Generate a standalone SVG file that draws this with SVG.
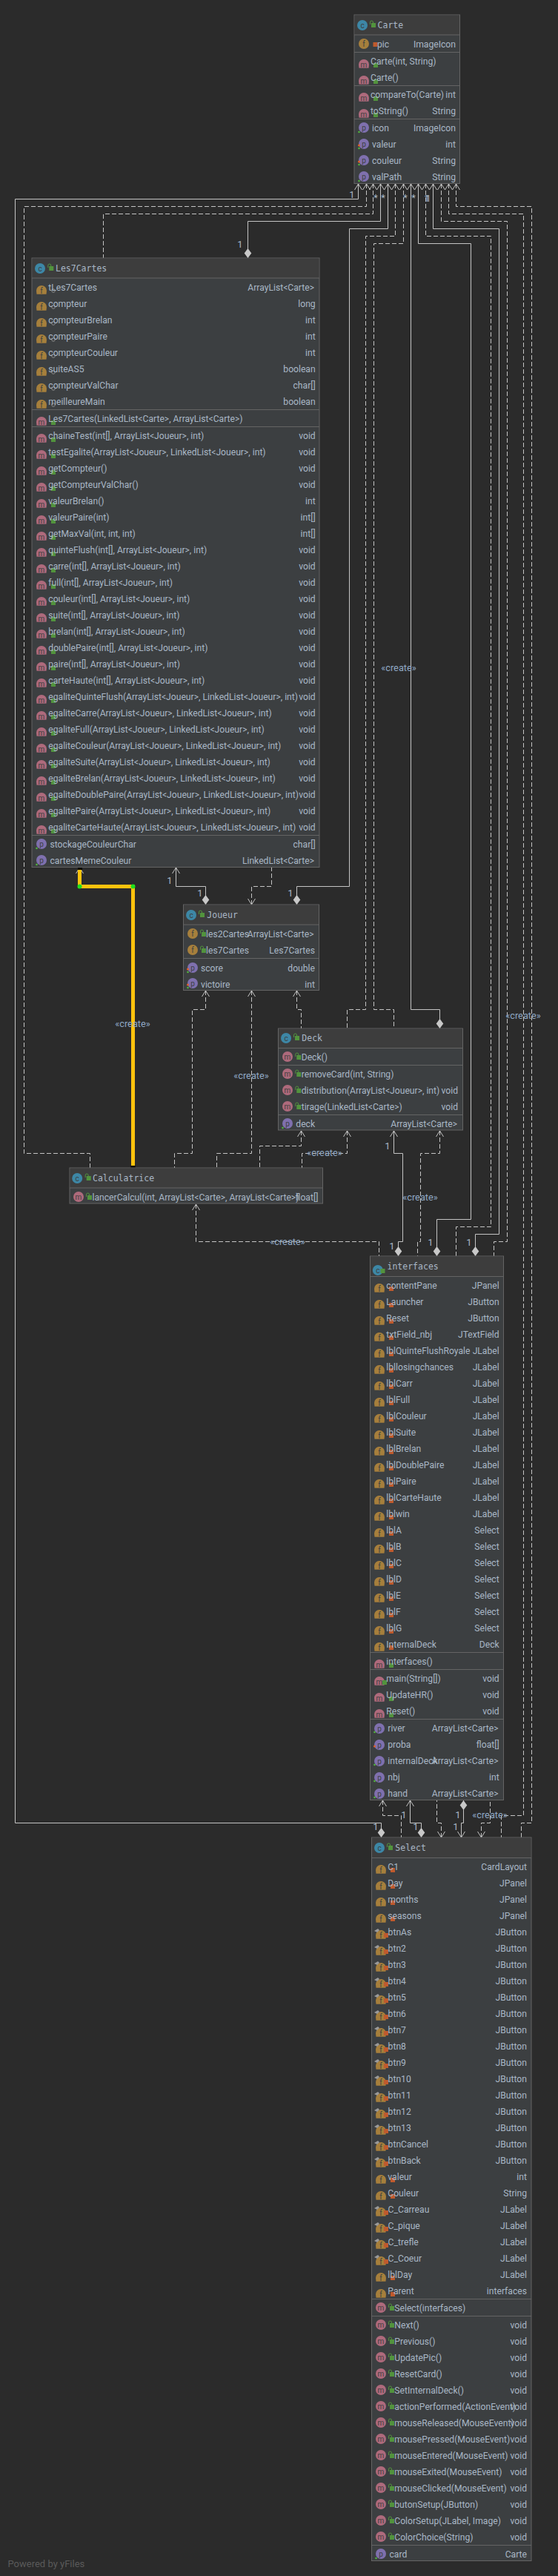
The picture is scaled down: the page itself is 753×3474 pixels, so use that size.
<svg xmlns="http://www.w3.org/2000/svg" width="753" height="3474" viewBox="0 0 753 3474">
<style>
text{font-family:Roboto,"Open Sans","DejaVu Sans",sans-serif;font-size:12.15px;fill:#a9b7c6}
.t{text-anchor:end}
.h{font-family:"DejaVu Sans Mono","Liberation Mono",monospace;font-size:11.5px;fill:#a9b7c6}
.l{font-size:12.8px;fill:#8fa8c4;text-anchor:middle}
.o{fill:#a9b7c6;font-size:13px;text-anchor:middle}
.b{fill:#3c3f41;stroke:#646464;stroke-width:1}
.hd{fill:#3d3d3d}
.s{stroke:#646464;stroke-width:1}
.cs{fill:none;stroke:#c4c4c4;stroke-width:1;marker-start:url(#ah)}
.cd{fill:none;stroke:#c4c4c4;stroke-width:1;stroke-dasharray:6 3;marker-start:url(#ah)}
.di{marker-end:url(#di)}
.ic{font-size:10px;fill:#3c3f41;text-anchor:middle}
</style>
<defs>
<marker id="ah" markerUnits="userSpaceOnUse" markerWidth="14" markerHeight="14" viewBox="-12 -7 14 14" refX="0" refY="0" orient="auto-start-reverse"><path d="M-8,-5L0,0L-8,5" fill="none" stroke="#c4c4c4" stroke-width="1"/></marker>
<marker id="di" markerUnits="userSpaceOnUse" markerWidth="16" markerHeight="12" viewBox="-14 -6 16 12" refX="0" refY="0" orient="auto"><path d="M-13,0L-6.5,-4.8L0,0L-6.5,4.8Z" fill="#c8c8c8"/></marker>
<g id="ic"><circle r="7" fill="#3d87a6"/><text class="ic" y="3.5">c</text></g>
<g id="if"><circle r="7" fill="#a67f3c"/><text class="ic" y="3.5">f</text></g>
<g id="im"><circle r="7" fill="#ae6a7c"/><text class="ic" y="3.5">m</text></g>
<g id="ip"><circle r="7" fill="#7f70ae"/><text class="ic" y="3.5">p</text></g>
<g id="fd"><path d="M-7,0A7,7 0 0 1 7,0L6.5,4.7L-6.5,4.7Z" fill="#a67f3c"/><text class="ic" y="3.5">f</text></g>
<g id="md"><path d="M-7,0A7,7 0 0 1 7,0L6.5,4.7L-6.5,4.7Z" fill="#ae6a7c"/><text class="ic" y="3.5">m</text></g>
<g id="lo"><path d="M-4.5,-1V-4A2,2 0 0 1 -0.5,-4V-3" fill="none" stroke="#52933d"/><rect x="-3" y="-3" width="6" height="6" fill="#52933d"/></g>
<rect id="gs" x="-3" y="-3" width="6" height="6" fill="#52933d"/>
<rect id="rs" x="-3" y="-3" width="6" height="6" fill="#bf5a2d"/>
<circle id="ring" r="2.3" fill="none" stroke="#8a8a8a"/>
<circle id="gd" r="1.3" fill="#52b33d"/>
<circle id="rd" r="1.5" fill="#e0602c"/>
<path id="pin" d="M-4,0L1,-3L3,-1L0,2Z" fill="#9a9a9a"/>
</defs>
<rect width="753" height="3474" fill="#2b2b2b"/>

<g id="connectors">
<polyline class="cs di" points="483.5,248 483.5,268.5 20.5,268.5 20.5,2458.5 514.5,2458.5 514.5,2478"/>
<polyline class="cd" points="494.5,248 494.5,278.5 32.5,278.5 32.5,1555.5 121.5,1555.5 121.5,1575"/>
<polyline class="cd" points="503.5,248 503.5,288.5 139.5,288.5 139.5,348"/>
<polyline class="cs di" points="513.5,248 513.5,298.5 334.5,298.5 334.5,348"/>
<polyline class="cs di" points="523.5,248 523.5,308.5 471.5,308.5 471.5,1195.5 400.5,1195.5 400.5,1220"/>
<polyline class="cd" points="533.5,248 533.5,318.5 493.5,318.5 493.5,1361.5 468.5,1361.5 468.5,1387"/>
<polyline class="cd" points="544.5,248 544.5,328.5 504.5,328.5 504.5,1361.5 531.5,1361.5 531.5,1387"/>
<polyline class="cs di" points="554.5,248 554.5,1361.5 593.5,1361.5 593.5,1387"/>
<polyline class="cs di" points="564.5,248 564.5,328.5 635.5,328.5 635.5,1644.5 589.5,1644.5 589.5,1694"/>
<polyline class="cd" points="574.5,248 574.5,318.5 662.5,318.5 662.5,1654.5 615.5,1654.5 615.5,1694"/>
<polyline class="cs di" points="584.5,248 584.5,308.5 673.5,308.5 673.5,1664.5 641.5,1664.5 641.5,1694"/>
<polyline class="cd" points="595.5,248 595.5,298.5 684.5,298.5 684.5,1674.5 666.5,1674.5 666.5,1694"/>
<polyline class="cd" points="605.5,248 605.5,288.5 706.5,288.5 706.5,2448.5 676.5,2448.5 676.5,2478"/>
<polyline class="cd" points="615.5,248 615.5,278.5 717.5,278.5 717.5,2458.5 703.5,2458.5 703.5,2478"/>
<polyline class="cs di" points="237.5,1170 237.5,1195.5 277.5,1195.5 277.5,1220"/>
<polyline class="cd" points="339.5,1220 339.5,1195.5 366.5,1195.5 366.5,1170"/>
<polyline class="cs" points="107.5,1170 107.5,1180"/>
<polyline class="cd" points="277.5,1336 277.5,1361.5 259.5,1361.5 259.5,1555.5 235.5,1555.5 235.5,1575"/>
<polyline class="cd" points="339.5,1336 339.5,1555.5 292.5,1555.5 292.5,1575"/>
<polyline class="cd" points="400.5,1336 400.5,1361.5 406.5,1361.5 406.5,1387"/>
<polyline class="cd" points="406.5,1525 406.5,1545.5 350.5,1545.5 350.5,1575"/>
<polyline class="cd" points="468.5,1525 468.5,1555.5 407.5,1555.5 407.5,1575"/>
<polyline class="cs di" points="531.5,1525 531.5,1555.5 543.5,1555.5 543.5,1674.5 537.5,1674.5 537.5,1694"/>
<polyline class="cd" points="593.5,1525 593.5,1555.5 567.5,1555.5 567.5,1674.5 563.5,1674.5 563.5,1694"/>
<polyline class="cd" points="264.5,1624 264.5,1674.5 511.5,1674.5 511.5,1694"/>
<polyline class="cd" points="516.5,2428 516.5,2448.5 541.5,2448.5 541.5,2478"/>
<polyline class="cs di" points="553.5,2428 553.5,2458.5 568.5,2458.5 568.5,2478"/>
<polyline class="cd" points="595.5,2478 595.5,2458.5 589.5,2458.5 589.5,2428"/>
<polyline class="cs di" points="622.5,2478 622.5,2458.5 625.5,2458.5 625.5,2428"/>
<polyline class="cd" points="649.5,2478 649.5,2458.5 661.5,2458.5 661.5,2428"/>
<polyline id="highlight" points="107.5,1172 107.5,1195.5 179.5,1195.5 179.5,1575" fill="none" stroke="#ffc30d" stroke-width="5"/>
<rect x="105" y="1167" width="6" height="6" fill="#000"/>
<rect x="176.5" y="1572" width="6" height="6" fill="#000"/>
<circle cx="107.5" cy="1195.5" r="3" fill="#1ee01e"/>
<circle cx="179.5" cy="1195.5" r="3" fill="#1ee01e"/>
<text class="o" x="475" y="267">1</text><text class="o" x="507" y="271">*</text><text class="o" x="517" y="271">*</text><text class="o" x="547" y="271">*</text><text class="o" x="558" y="271">*</text><text class="o" x="576" y="272">1</text><text class="o" x="578" y="272">1</text>
<text class="o" x="324" y="334">1</text>
<text class="o" x="229" y="1192">1</text><text class="o" x="270" y="1209">1</text><text class="o" x="392" y="1209">1</text>
<text class="o" x="523" y="1550">1</text><text class="o" x="529" y="1685">1</text><text class="o" x="581" y="1680">1</text><text class="o" x="633" y="1680">1</text>
<text class="o" x="545" y="2452">1</text><text class="o" x="507" y="2468">1</text><text class="o" x="561" y="2468">1</text><text class="o" x="618" y="2452">1</text><text class="o" x="615" y="2468">1</text>
<text class="l" x="179" y="1385">«create»</text>
<text class="l" x="339" y="1455">«create»</text>
<text class="l" x="438" y="1559">«create»</text>
<text class="l" x="567" y="1619">«create»</text>
<text class="l" x="388" y="1679">«create»</text>
<text class="l" x="661" y="2452">«create»</text>
<text class="l" x="706" y="1374">«create»</text>
<text class="l" x="538" y="905">«create»</text>
</g>

<g id="Carte">
<rect class="b" x="478" y="20" width="142.500" height="227.500"/><rect class="hd" x="478.500" y="20.500" width="141.500" height="26.500"/>
<path class="s" d="M478,47H620M478,70.500H620M478,115.500H620M478,160.500H620"/>
<use href="#ic" x="489" y="34"/><use href="#lo" x="504" y="34"/><text class="h" x="509.600" y="38">Carte</text>
<use href="#if" x="491" y="59"/><use href="#rs" x="506.500" y="60"/><text x="509" y="64">pic</text><text class="t" x="615" y="64">ImageIcon</text>
<use href="#md" x="491" y="87"/><use href="#gs" x="507" y="88"/><text x="500" y="87">Carte(int, String)</text>
<use href="#md" x="491" y="109"/><use href="#gs" x="507" y="110"/><text x="500" y="109">Carte()</text>
<use href="#md" x="491" y="132"/><use href="#gs" x="507" y="133"/><text x="500" y="132">compareTo(Carte)</text><text class="t" x="615" y="132">int</text>
<use href="#md" x="491" y="154"/><use href="#gs" x="507" y="155"/><text x="500" y="154">toString()</text><text class="t" x="615" y="154">String</text>
<use href="#ip" x="491" y="172"/><use href="#gd" x="484.500" y="178"/><text x="502" y="177">icon</text><text class="t" x="615" y="177">ImageIcon</text>
<use href="#ip" x="491" y="194"/><use href="#rd" x="484.500" y="196"/><use href="#gd" x="484.500" y="200"/><text x="502" y="199">valeur</text><text class="t" x="615" y="199">int</text>
<use href="#ip" x="491" y="216"/><use href="#rd" x="484.500" y="218"/><use href="#gd" x="484.500" y="222"/><text x="502" y="221">couleur</text><text class="t" x="615" y="221">String</text>
<use href="#ip" x="491" y="238"/><use href="#gd" x="484.500" y="244"/><text x="502" y="243">valPath</text><text class="t" x="615" y="243">String</text>
</g>

<g id="Les7Cartes">
<rect class="b" x="43" y="348" width="388" height="821.500"/><rect class="hd" x="43.500" y="348.500" width="387" height="26.500"/>
<path class="s" d="M43,375H431M43,552.500H431M43,575.500H431M43,1126.500H431"/>
<use href="#ic" x="54" y="362"/><use href="#lo" x="69.300" y="362"/><text class="h" x="75" y="366">Les7Cartes</text>
<use href="#fd" x="56" y="392"/><use href="#ring" x="72" y="392"/><text x="65.300" y="392">tLes7Cartes</text><text class="t" x="424" y="392">ArrayList&lt;Carte&gt;</text>
<use href="#fd" x="56" y="414"/><use href="#ring" x="72" y="414"/><text x="65.300" y="414">compteur</text><text class="t" x="425.700" y="414">long</text>
<use href="#fd" x="56" y="436"/><use href="#ring" x="72" y="436"/><text x="65.300" y="436">compteurBrelan</text><text class="t" x="425.700" y="436">int</text>
<use href="#fd" x="56" y="458"/><use href="#ring" x="72" y="458"/><text x="65.300" y="458">compteurPaire</text><text class="t" x="425.700" y="458">int</text>
<use href="#fd" x="56" y="480"/><use href="#ring" x="72" y="480"/><text x="65.300" y="480">compteurCouleur</text><text class="t" x="425.700" y="480">int</text>
<use href="#fd" x="56" y="502"/><use href="#ring" x="72" y="502"/><text x="65.300" y="502">suiteAS5</text><text class="t" x="425.700" y="502">boolean</text>
<use href="#fd" x="56" y="524"/><use href="#ring" x="72" y="524"/><text x="65.300" y="524">compteurValChar</text><text class="t" x="425.700" y="524">char[]</text>
<use href="#fd" x="56" y="546"/><use href="#ring" x="72" y="546"/><text x="65.300" y="546">meilleureMain</text><text class="t" x="425.700" y="546">boolean</text>
<use href="#md" x="56" y="569"/><use href="#gs" x="72" y="570"/><text x="65.300" y="569">Les7Cartes(LinkedList&lt;Carte&gt;, ArrayList&lt;Carte&gt;)</text>
<use href="#md" x="56" y="592"/><use href="#gs" x="72" y="593"/><text x="65.300" y="592">chaineTest(int[], ArrayList&lt;Joueur&gt;, int)</text><text class="t" x="425.700" y="592">void</text>
<use href="#md" x="56" y="614"/><use href="#gs" x="72" y="615"/><text x="65.300" y="614">testEgalite(ArrayList&lt;Joueur&gt;, LinkedList&lt;Joueur&gt;, int)</text><text class="t" x="425.700" y="614">void</text>
<use href="#md" x="56" y="636"/><use href="#gs" x="72" y="637"/><text x="65.300" y="636">getCompteur()</text><text class="t" x="425.700" y="636">void</text>
<use href="#md" x="56" y="658"/><use href="#gs" x="72" y="659"/><text x="65.300" y="658">getCompteurValChar()</text><text class="t" x="425.700" y="658">void</text>
<use href="#md" x="56" y="680"/><use href="#gs" x="72" y="681"/><text x="65.300" y="680">valeurBrelan()</text><text class="t" x="425.700" y="680">int</text>
<use href="#md" x="56" y="702"/><use href="#gs" x="72" y="703"/><text x="65.300" y="702">valeurPaire(int)</text><text class="t" x="425.700" y="702">int[]</text>
<use href="#md" x="56" y="724"/><use href="#gs" x="72" y="725"/><text x="65.300" y="724">getMaxVal(int, int, int)</text><text class="t" x="425.700" y="724">int[]</text>
<use href="#md" x="56" y="746"/><use href="#gs" x="72" y="747"/><text x="65.300" y="746">quinteFlush(int[], ArrayList&lt;Joueur&gt;, int)</text><text class="t" x="425.700" y="746">void</text>
<use href="#md" x="56" y="768"/><use href="#gs" x="72" y="769"/><text x="65.300" y="768">carre(int[], ArrayList&lt;Joueur&gt;, int)</text><text class="t" x="425.700" y="768">void</text>
<use href="#md" x="56" y="790"/><use href="#gs" x="72" y="791"/><text x="65.300" y="790">full(int[], ArrayList&lt;Joueur&gt;, int)</text><text class="t" x="425.700" y="790">void</text>
<use href="#md" x="56" y="812"/><use href="#gs" x="72" y="813"/><text x="65.300" y="812">couleur(int[], ArrayList&lt;Joueur&gt;, int)</text><text class="t" x="425.700" y="812">void</text>
<use href="#md" x="56" y="834"/><use href="#gs" x="72" y="835"/><text x="65.300" y="834">suite(int[], ArrayList&lt;Joueur&gt;, int)</text><text class="t" x="425.700" y="834">void</text>
<use href="#md" x="56" y="856"/><use href="#gs" x="72" y="857"/><text x="65.300" y="856">brelan(int[], ArrayList&lt;Joueur&gt;, int)</text><text class="t" x="425.700" y="856">void</text>
<use href="#md" x="56" y="878"/><use href="#gs" x="72" y="879"/><text x="65.300" y="878">doublePaire(int[], ArrayList&lt;Joueur&gt;, int)</text><text class="t" x="425.700" y="878">void</text>
<use href="#md" x="56" y="900"/><use href="#gs" x="72" y="901"/><text x="65.300" y="900">paire(int[], ArrayList&lt;Joueur&gt;, int)</text><text class="t" x="425.700" y="900">void</text>
<use href="#md" x="56" y="922"/><use href="#gs" x="72" y="923"/><text x="65.300" y="922">carteHaute(int[], ArrayList&lt;Joueur&gt;, int)</text><text class="t" x="425.700" y="922">void</text>
<use href="#md" x="56" y="944"/><use href="#gs" x="72" y="945"/><text x="65.300" y="944">egaliteQuinteFlush(ArrayList&lt;Joueur&gt;, LinkedList&lt;Joueur&gt;, int)</text><text class="t" x="425.700" y="944">void</text>
<use href="#md" x="56" y="966"/><use href="#gs" x="72" y="967"/><text x="65.300" y="966">egaliteCarre(ArrayList&lt;Joueur&gt;, LinkedList&lt;Joueur&gt;, int)</text><text class="t" x="425.700" y="966">void</text>
<use href="#md" x="56" y="988"/><use href="#gs" x="72" y="989"/><text x="65.300" y="988">egaliteFull(ArrayList&lt;Joueur&gt;, LinkedList&lt;Joueur&gt;, int)</text><text class="t" x="425.700" y="988">void</text>
<use href="#md" x="56" y="1010"/><use href="#gs" x="72" y="1011"/><text x="65.300" y="1010">egaliteCouleur(ArrayList&lt;Joueur&gt;, LinkedList&lt;Joueur&gt;, int)</text><text class="t" x="425.700" y="1010">void</text>
<use href="#md" x="56" y="1032"/><use href="#gs" x="72" y="1033"/><text x="65.300" y="1032">egaliteSuite(ArrayList&lt;Joueur&gt;, LinkedList&lt;Joueur&gt;, int)</text><text class="t" x="425.700" y="1032">void</text>
<use href="#md" x="56" y="1054"/><use href="#gs" x="72" y="1055"/><text x="65.300" y="1054">egaliteBrelan(ArrayList&lt;Joueur&gt;, LinkedList&lt;Joueur&gt;, int)</text><text class="t" x="425.700" y="1054">void</text>
<use href="#md" x="56" y="1076"/><use href="#gs" x="72" y="1077"/><text x="65.300" y="1076">egaliteDoublePaire(ArrayList&lt;Joueur&gt;, LinkedList&lt;Joueur&gt;, int)</text><text class="t" x="425.700" y="1076">void</text>
<use href="#md" x="56" y="1098"/><use href="#gs" x="72" y="1099"/><text x="65.300" y="1098">egalitePaire(ArrayList&lt;Joueur&gt;, LinkedList&lt;Joueur&gt;, int)</text><text class="t" x="425.700" y="1098">void</text>
<use href="#md" x="56" y="1120"/><use href="#gs" x="72" y="1121"/><text x="65.300" y="1120">egaliteCarteHaute(ArrayList&lt;Joueur&gt;, LinkedList&lt;Joueur&gt;, int)</text><text class="t" x="425.700" y="1120">void</text>
<use href="#ip" x="56" y="1138"/><use href="#gd" x="49.500" y="1144"/><text x="67.500" y="1143">stockageCouleurChar</text><text class="t" x="425.700" y="1143">char[]</text>
<use href="#ip" x="56" y="1160"/><use href="#gd" x="49.500" y="1166"/><text x="67.500" y="1165">cartesMemeCouleur</text><text class="t" x="424" y="1165">LinkedList&lt;Carte&gt;</text>
</g>

<g id="Joueur">
<rect class="b" x="247.500" y="1220" width="183" height="115.500"/><rect class="hd" x="248" y="1220.500" width="182" height="26.500"/>
<path class="s" d="M247.500,1247H430.500M247.500,1292.500H430.500"/>
<use href="#ic" x="258" y="1234"/><use href="#lo" x="273" y="1234"/><text class="h" x="279.300" y="1238">Joueur</text>
<use href="#if" x="260" y="1259"/><use href="#lo" x="275" y="1260"/><text x="278" y="1264">les2Cartes</text><text class="t" x="423.500" y="1264">ArrayList&lt;Carte&gt;</text>
<use href="#if" x="260" y="1281"/><use href="#lo" x="275" y="1282"/><text x="278" y="1286">les7Cartes</text><text class="t" x="425" y="1286">Les7Cartes</text>
<use href="#ip" x="260" y="1305"/><use href="#rd" x="253.500" y="1307"/><use href="#gd" x="253.500" y="1311"/><text x="271" y="1310">score</text><text class="t" x="425" y="1310">double</text>
<use href="#ip" x="260" y="1326"/><use href="#rd" x="253.500" y="1328"/><use href="#gd" x="253.500" y="1332"/><text x="271" y="1332">victoire</text><text class="t" x="425" y="1332">int</text>
</g>

<g id="Deck">
<rect class="b" x="375.500" y="1387" width="249" height="137"/><rect class="hd" x="376" y="1387.500" width="248" height="26"/>
<path class="s" d="M375.500,1413.500H624.500M375.500,1436.500H624.500M375.500,1503.500H624.500"/>
<use href="#ic" x="386" y="1400"/><use href="#lo" x="401" y="1400"/><text class="h" x="407.300" y="1404">Deck</text>
<use href="#im" x="388" y="1425"/><use href="#lo" x="403.300" y="1426"/><text x="406.700" y="1430">Deck()</text>
<use href="#im" x="388" y="1448"/><use href="#lo" x="403.300" y="1449"/><text x="406.700" y="1453">removeCard(int, String)</text>
<use href="#im" x="388" y="1470"/><use href="#lo" x="403.300" y="1471"/><text x="406.700" y="1475">distribution(ArrayList&lt;Joueur&gt;, int)</text><text class="t" x="618" y="1475">void</text>
<use href="#im" x="388" y="1492"/><use href="#lo" x="403.300" y="1493"/><text x="406.700" y="1497">tirage(LinkedList&lt;Carte&gt;)</text><text class="t" x="618" y="1497">void</text>
<use href="#ip" x="388" y="1515"/><use href="#gd" x="381.500" y="1521"/><text x="399.300" y="1520">deck</text><text class="t" x="617" y="1520">ArrayList&lt;Carte&gt;</text>
</g>

<g id="Calculatrice">
<rect class="b" x="94" y="1575" width="341.500" height="48"/><rect class="hd" x="94.500" y="1575.500" width="340.500" height="26.500"/>
<path class="s" d="M94,1602H435.500"/>
<use href="#ic" x="104.200" y="1589"/><use href="#lo" x="119.700" y="1589"/><text class="h" x="125" y="1593">Calculatrice</text>
<use href="#im" x="106" y="1614"/><use href="#lo" x="121" y="1615"/><text x="124.500" y="1619">lancerCalcul(int, ArrayList&lt;Carte&gt;, ArrayList&lt;Carte&gt;)</text><text class="t" x="429.400" y="1619">float[]</text>
</g>

<g id="interfaces">
<rect class="b" x="499.500" y="1694" width="180" height="733.500"/><rect class="hd" x="500" y="1694.500" width="179" height="27"/>
<path class="s" d="M499.500,1721.500H679.500M499.500,2228.500H679.500M499.500,2251.500H679.500M499.500,2318.500H679.500"/>
<use href="#ic" x="509.800" y="1713"/><use href="#gs" x="516.500" y="1714"/><text class="h" x="522.500" y="1712">interfaces</text>
<use href="#fd" x="512" y="1738"/><use href="#rs" x="528" y="1738"/><text x="521.300" y="1738">contentPane</text><text class="t" x="673.700" y="1738">JPanel</text>
<use href="#fd" x="512" y="1760"/><use href="#rs" x="528" y="1760"/><text x="521.300" y="1760">Launcher</text><text class="t" x="673.700" y="1760">JButton</text>
<use href="#fd" x="512" y="1782"/><use href="#rs" x="528" y="1782"/><text x="521.300" y="1782">Reset</text><text class="t" x="673.700" y="1782">JButton</text>
<use href="#fd" x="512" y="1804"/><use href="#rs" x="528" y="1804"/><text x="521.300" y="1804">txtField_nbj</text><text class="t" x="673.700" y="1804">JTextField</text>
<use href="#fd" x="512" y="1826"/><use href="#rs" x="528" y="1826"/><text x="521.300" y="1826">lblQuinteFlushRoyale</text><text class="t" x="673.700" y="1826">JLabel</text>
<use href="#fd" x="512" y="1848"/><use href="#rs" x="528" y="1848"/><text x="521.300" y="1848">lbllosingchances</text><text class="t" x="673.700" y="1848">JLabel</text>
<use href="#fd" x="512" y="1870"/><use href="#rs" x="528" y="1870"/><text x="521.300" y="1870">lblCarr</text><text class="t" x="673.700" y="1870">JLabel</text>
<use href="#fd" x="512" y="1892"/><use href="#rs" x="528" y="1892"/><text x="521.300" y="1892">lblFull</text><text class="t" x="673.700" y="1892">JLabel</text>
<use href="#fd" x="512" y="1914"/><use href="#rs" x="528" y="1914"/><text x="521.300" y="1914">lblCouleur</text><text class="t" x="673.700" y="1914">JLabel</text>
<use href="#fd" x="512" y="1936"/><use href="#rs" x="528" y="1936"/><text x="521.300" y="1936">lblSuite</text><text class="t" x="673.700" y="1936">JLabel</text>
<use href="#fd" x="512" y="1958"/><use href="#rs" x="528" y="1958"/><text x="521.300" y="1958">lblBrelan</text><text class="t" x="673.700" y="1958">JLabel</text>
<use href="#fd" x="512" y="1980"/><use href="#rs" x="528" y="1980"/><text x="521.300" y="1980">lblDoublePaire</text><text class="t" x="673.700" y="1980">JLabel</text>
<use href="#fd" x="512" y="2002"/><use href="#rs" x="528" y="2002"/><text x="521.300" y="2002">lblPaire</text><text class="t" x="673.700" y="2002">JLabel</text>
<use href="#fd" x="512" y="2024"/><use href="#rs" x="528" y="2024"/><text x="521.300" y="2024">lblCarteHaute</text><text class="t" x="673.700" y="2024">JLabel</text>
<use href="#fd" x="512" y="2046"/><use href="#rs" x="528" y="2046"/><text x="521.300" y="2046">lblwin</text><text class="t" x="673.700" y="2046">JLabel</text>
<use href="#fd" x="512" y="2068"/><use href="#rs" x="528" y="2068"/><text x="521.300" y="2068">lblA</text><text class="t" x="673.700" y="2068">Select</text>
<use href="#fd" x="512" y="2090"/><use href="#rs" x="528" y="2090"/><text x="521.300" y="2090">lblB</text><text class="t" x="673.700" y="2090">Select</text>
<use href="#fd" x="512" y="2112"/><use href="#rs" x="528" y="2112"/><text x="521.300" y="2112">lblC</text><text class="t" x="673.700" y="2112">Select</text>
<use href="#fd" x="512" y="2134"/><use href="#rs" x="528" y="2134"/><text x="521.300" y="2134">lblD</text><text class="t" x="673.700" y="2134">Select</text>
<use href="#fd" x="512" y="2156"/><use href="#rs" x="528" y="2156"/><text x="521.300" y="2156">lblE</text><text class="t" x="673.700" y="2156">Select</text>
<use href="#fd" x="512" y="2178"/><use href="#rs" x="528" y="2178"/><text x="521.300" y="2178">lblF</text><text class="t" x="673.700" y="2178">Select</text>
<use href="#fd" x="512" y="2200"/><use href="#rs" x="528" y="2200"/><text x="521.300" y="2200">lblG</text><text class="t" x="673.700" y="2200">Select</text>
<use href="#fd" x="512" y="2222"/><use href="#rs" x="528" y="2222"/><text x="521.300" y="2222">InternalDeck</text><text class="t" x="673.700" y="2222">Deck</text>
<use href="#md" x="512" y="2245"/><use href="#gs" x="528" y="2246"/><text x="521.300" y="2245">interfaces()</text>
<use href="#md" x="512" y="2268"/><use href="#gs" x="519" y="2269"/><text x="521.300" y="2268">main(String[])</text><text class="t" x="673.700" y="2268">void</text>
<use href="#md" x="512" y="2290"/><use href="#gs" x="528" y="2291"/><text x="521.300" y="2290">UpdateHR()</text><text class="t" x="673.700" y="2290">void</text>
<use href="#md" x="512" y="2312"/><use href="#gs" x="528" y="2313"/><text x="521.300" y="2312">Reset()</text><text class="t" x="673.700" y="2312">void</text>
<use href="#ip" x="512" y="2331"/><use href="#gd" x="505.500" y="2336"/><text x="523.300" y="2335">river</text><text class="t" x="672.500" y="2335">ArrayList&lt;Carte&gt;</text>
<use href="#ip" x="512" y="2353"/><use href="#rd" x="505.500" y="2355"/><text x="523.300" y="2357">proba</text><text class="t" x="673.700" y="2357">float[]</text>
<use href="#ip" x="512" y="2375"/><use href="#gd" x="505.500" y="2380"/><text x="523.300" y="2379">internalDeck</text><text class="t" x="672.500" y="2379">ArrayList&lt;Carte&gt;</text>
<use href="#ip" x="512" y="2397"/><use href="#gd" x="505.500" y="2402"/><text x="523.300" y="2401">nbj</text><text class="t" x="673.700" y="2401">int</text>
<use href="#ip" x="512" y="2419"/><use href="#gd" x="505.500" y="2424"/><text x="523.300" y="2423">hand</text><text class="t" x="672.500" y="2423">ArrayList&lt;Carte&gt;</text>
</g>

<g id="Select">
<rect class="b" x="501.500" y="2478" width="215.500" height="975.500"/><rect class="hd" x="502" y="2478.500" width="214.500" height="27"/>
<path class="s" d="M501.500,2505.500H717M501.500,3100.500H717M501.500,3123.500H717M501.500,3432.500H717"/>
<use href="#ic" x="512" y="2492"/><use href="#lo" x="527" y="2492"/><text class="h" x="533.300" y="2496">Select</text>
<use href="#fd" x="514" y="2522"/><use href="#rs" x="530" y="2522"/><text x="523.300" y="2522">C1</text><text class="t" x="711" y="2522">CardLayout</text>
<use href="#fd" x="514" y="2544"/><use href="#rs" x="530" y="2544"/><text x="523.300" y="2544">Day</text><text class="t" x="711" y="2544">JPanel</text>
<use href="#fd" x="514" y="2566"/><use href="#rs" x="530" y="2566"/><text x="523.300" y="2566">months</text><text class="t" x="711" y="2566">JPanel</text>
<use href="#fd" x="514" y="2588"/><use href="#rs" x="530" y="2588"/><text x="523.300" y="2588">seasons</text><text class="t" x="711" y="2588">JPanel</text>
<use href="#fd" x="514" y="2610"/><use href="#pin" x="509" y="2604"/><use href="#rs" x="521" y="2610"/><text x="523.600" y="2610">btnAs</text><text class="t" x="711" y="2610">JButton</text>
<use href="#fd" x="514" y="2632"/><use href="#pin" x="509" y="2626"/><use href="#rs" x="521" y="2632"/><text x="523.600" y="2632">btn2</text><text class="t" x="711" y="2632">JButton</text>
<use href="#fd" x="514" y="2654"/><use href="#pin" x="509" y="2648"/><use href="#rs" x="521" y="2654"/><text x="523.600" y="2654">btn3</text><text class="t" x="711" y="2654">JButton</text>
<use href="#fd" x="514" y="2676"/><use href="#pin" x="509" y="2670"/><use href="#rs" x="521" y="2676"/><text x="523.600" y="2676">btn4</text><text class="t" x="711" y="2676">JButton</text>
<use href="#fd" x="514" y="2698"/><use href="#pin" x="509" y="2692"/><use href="#rs" x="521" y="2698"/><text x="523.600" y="2698">btn5</text><text class="t" x="711" y="2698">JButton</text>
<use href="#fd" x="514" y="2720"/><use href="#pin" x="509" y="2714"/><use href="#rs" x="521" y="2720"/><text x="523.600" y="2720">btn6</text><text class="t" x="711" y="2720">JButton</text>
<use href="#fd" x="514" y="2742"/><use href="#pin" x="509" y="2736"/><use href="#rs" x="521" y="2742"/><text x="523.600" y="2742">btn7</text><text class="t" x="711" y="2742">JButton</text>
<use href="#fd" x="514" y="2764"/><use href="#pin" x="509" y="2758"/><use href="#rs" x="521" y="2764"/><text x="523.600" y="2764">btn8</text><text class="t" x="711" y="2764">JButton</text>
<use href="#fd" x="514" y="2786"/><use href="#pin" x="509" y="2780"/><use href="#rs" x="521" y="2786"/><text x="523.600" y="2786">btn9</text><text class="t" x="711" y="2786">JButton</text>
<use href="#fd" x="514" y="2808"/><use href="#pin" x="509" y="2802"/><use href="#rs" x="521" y="2808"/><text x="523.600" y="2808">btn10</text><text class="t" x="711" y="2808">JButton</text>
<use href="#fd" x="514" y="2830"/><use href="#pin" x="509" y="2824"/><use href="#rs" x="521" y="2830"/><text x="523.600" y="2830">btn11</text><text class="t" x="711" y="2830">JButton</text>
<use href="#fd" x="514" y="2852"/><use href="#pin" x="509" y="2846"/><use href="#rs" x="521" y="2852"/><text x="523.600" y="2852">btn12</text><text class="t" x="711" y="2852">JButton</text>
<use href="#fd" x="514" y="2874"/><use href="#pin" x="509" y="2868"/><use href="#rs" x="521" y="2874"/><text x="523.600" y="2874">btn13</text><text class="t" x="711" y="2874">JButton</text>
<use href="#fd" x="514" y="2896"/><use href="#pin" x="509" y="2890"/><use href="#rs" x="521" y="2896"/><text x="523.600" y="2896">btnCancel</text><text class="t" x="711" y="2896">JButton</text>
<use href="#fd" x="514" y="2918"/><use href="#pin" x="509" y="2912"/><use href="#rs" x="521" y="2918"/><text x="523.600" y="2918">btnBack</text><text class="t" x="711" y="2918">JButton</text>
<use href="#fd" x="514" y="2940"/><use href="#rs" x="530" y="2940"/><text x="523.300" y="2940">valeur</text><text class="t" x="711" y="2940">int</text>
<use href="#fd" x="514" y="2962"/><use href="#rs" x="530" y="2962"/><text x="523.300" y="2962">Couleur</text><text class="t" x="711" y="2962">String</text>
<use href="#fd" x="514" y="2984"/><use href="#pin" x="509" y="2978"/><use href="#rs" x="521" y="2984"/><text x="523.600" y="2984">C_Carreau</text><text class="t" x="711" y="2984">JLabel</text>
<use href="#fd" x="514" y="3006"/><use href="#pin" x="509" y="3000"/><use href="#rs" x="521" y="3006"/><text x="523.600" y="3006">C_pique</text><text class="t" x="711" y="3006">JLabel</text>
<use href="#fd" x="514" y="3028"/><use href="#pin" x="509" y="3022"/><use href="#rs" x="521" y="3028"/><text x="523.600" y="3028">C_trefle</text><text class="t" x="711" y="3028">JLabel</text>
<use href="#fd" x="514" y="3050"/><use href="#pin" x="509" y="3044"/><use href="#rs" x="521" y="3050"/><text x="523.600" y="3050">C_Coeur</text><text class="t" x="711" y="3050">JLabel</text>
<use href="#fd" x="514" y="3072"/><use href="#rs" x="530" y="3072"/><text x="523.300" y="3072">lblDay</text><text class="t" x="711" y="3072">JLabel</text>
<use href="#fd" x="514" y="3094"/><use href="#rs" x="530" y="3094"/><text x="523.300" y="3094">Parent</text><text class="t" x="711" y="3094">interfaces</text>
<use href="#im" x="514" y="3112"/><use href="#lo" x="529" y="3113"/><text x="532.300" y="3117">Select(interfaces)</text>
<use href="#im" x="514" y="3135"/><use href="#lo" x="529" y="3136"/><text x="532.300" y="3140">Next()</text><text class="t" x="711" y="3140">void</text>
<use href="#im" x="514" y="3157"/><use href="#lo" x="529" y="3158"/><text x="532.300" y="3162">Previous()</text><text class="t" x="711" y="3162">void</text>
<use href="#im" x="514" y="3179"/><use href="#lo" x="529" y="3180"/><text x="532.300" y="3184">UpdatePic()</text><text class="t" x="711" y="3184">void</text>
<use href="#im" x="514" y="3201"/><use href="#lo" x="529" y="3202"/><text x="532.300" y="3206">ResetCard()</text><text class="t" x="711" y="3206">void</text>
<use href="#im" x="514" y="3223"/><use href="#lo" x="529" y="3224"/><text x="532.300" y="3228">SetInternalDeck()</text><text class="t" x="711" y="3228">void</text>
<use href="#im" x="514" y="3245"/><use href="#lo" x="529" y="3246"/><text x="532.300" y="3250">actionPerformed(ActionEvent)</text><text class="t" x="711" y="3250">void</text>
<use href="#im" x="514" y="3267"/><use href="#lo" x="529" y="3268"/><text x="532.300" y="3272">mouseReleased(MouseEvent)</text><text class="t" x="711" y="3272">void</text>
<use href="#im" x="514" y="3289"/><use href="#lo" x="529" y="3290"/><text x="532.300" y="3294">mousePressed(MouseEvent)</text><text class="t" x="711" y="3294">void</text>
<use href="#im" x="514" y="3311"/><use href="#lo" x="529" y="3312"/><text x="532.300" y="3316">mouseEntered(MouseEvent)</text><text class="t" x="711" y="3316">void</text>
<use href="#im" x="514" y="3333"/><use href="#lo" x="529" y="3334"/><text x="532.300" y="3338">mouseExited(MouseEvent)</text><text class="t" x="711" y="3338">void</text>
<use href="#im" x="514" y="3355"/><use href="#lo" x="529" y="3356"/><text x="532.300" y="3360">mouseClicked(MouseEvent)</text><text class="t" x="711" y="3360">void</text>
<use href="#im" x="514" y="3377"/><use href="#lo" x="529" y="3378"/><text x="532.300" y="3382">butonSetup(JButton)</text><text class="t" x="711" y="3382">void</text>
<use href="#im" x="514" y="3399"/><use href="#lo" x="529" y="3400"/><text x="532.300" y="3404">ColorSetup(JLabel, Image)</text><text class="t" x="711" y="3404">void</text>
<use href="#im" x="514" y="3421"/><use href="#lo" x="529" y="3422"/><text x="532.300" y="3426">ColorChoice(String)</text><text class="t" x="711" y="3426">void</text>
<use href="#ip" x="514" y="3444"/><use href="#gd" x="507.500" y="3450"/><text x="525.500" y="3449">card</text><text class="t" x="711" y="3449">Carte</text>
</g>

<text x="10.500" y="3462" style="fill:#5a5a5a;font-size:13px">Powered by yFiles</text>
</svg>
